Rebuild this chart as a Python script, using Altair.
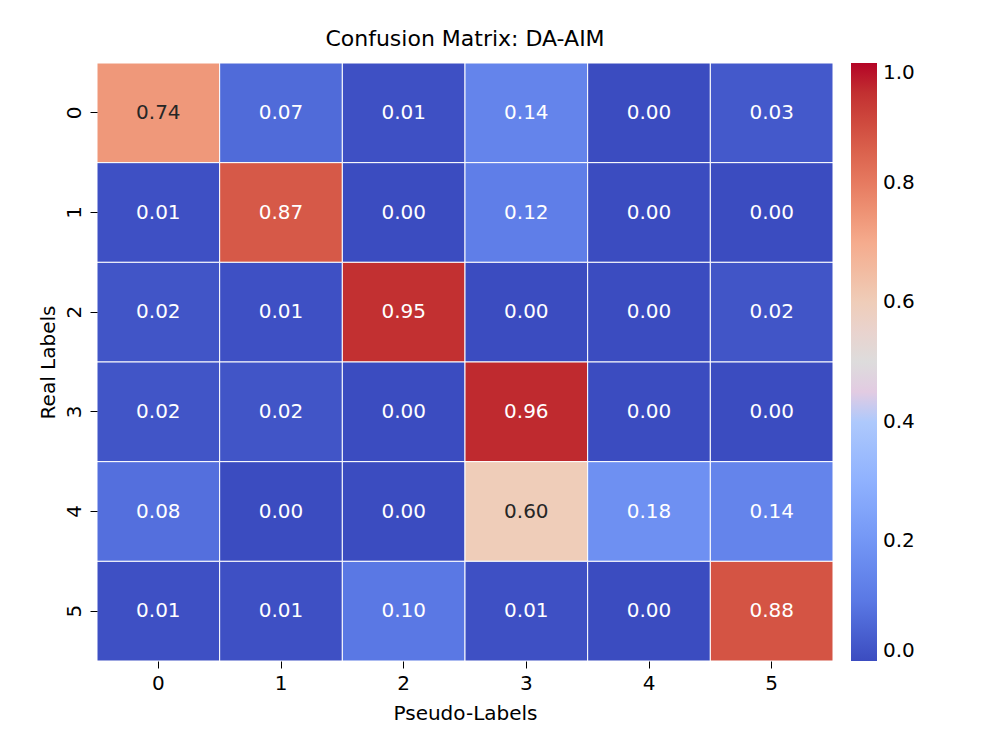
import pandas as pd
import altair as alt

real_labels = ["0", "1", "2", "3", "4", "5"]
pseudo_labels = ["0", "1", "2", "3", "4", "5"]
values = [
    [0.74, 0.07, 0.01, 0.14, 0.00, 0.03],
    [0.01, 0.87, 0.00, 0.12, 0.00, 0.00],
    [0.02, 0.01, 0.95, 0.00, 0.00, 0.02],
    [0.02, 0.02, 0.00, 0.96, 0.00, 0.00],
    [0.08, 0.00, 0.00, 0.60, 0.18, 0.14],
    [0.01, 0.01, 0.10, 0.01, 0.00, 0.88],
]

rows = []
for i, r in enumerate(real_labels):
    for j, p in enumerate(pseudo_labels):
        rows.append({"real": r, "pseudo": p, "v": values[i][j]})
df = pd.DataFrame(rows)

# coolwarm approximation
cw_domain = [0, 0.1, 0.2, 0.3, 0.4, 0.5, 0.6, 0.7, 0.8, 0.9, 1.0]
cw_range = ["#3b4cc0", "#5a78e4", "#7396f5", "#8fb1fe", "#aec9fc", "#dddcdc",
            "#efcdb9", "#f5ab8d", "#e67a60", "#cf4a3e", "#b40426"]

font = "DejaVu Sans"
base = alt.Chart(df).encode(
    x=alt.X("pseudo:O", sort=pseudo_labels, title="Pseudo-Labels",
            axis=alt.Axis(labelAngle=0, domain=False, tickSize=7, tickColor="black",
                          labelFontSize=20, titleFontSize=20, labelPadding=5,
                          titlePadding=10, labelColor="black", titleColor="black",
                          labelFont=font, titleFont=font, titleFontWeight="normal")),
    y=alt.Y("real:O", sort=real_labels, title="Real Labels",
            axis=alt.Axis(labelAngle=270, labelAlign="center", labelBaseline="bottom",
                          domain=False, tickSize=7, tickColor="black",
                          labelFontSize=20, titleFontSize=20, labelPadding=6,
                          titlePadding=6, labelColor="black", titleColor="black",
                          labelFont=font, titleFont=font, titleFontWeight="normal")),
)

cells = base.mark_rect(stroke="white", strokeWidth=1).encode(
    color=alt.Color("v:Q", scale=alt.Scale(domain=cw_domain, range=cw_range, type="linear"),
                    legend=alt.Legend(title=None, gradientLength=598, gradientThickness=26,
                                      offset=18, labelFontSize=20, labelFont=font,
                                      labelColor="black", format=".1f",
                                      values=[0, 0.2, 0.4, 0.6, 0.8, 1.0],
                                      gradientStrokeWidth=0, labelOffset=6))
)

text = base.mark_text(fontSize=20, font=font).encode(
    text=alt.Text("v:Q", format=".2f"),
    color=alt.condition("datum.v > 0.5 && datum.v < 0.8", alt.value("#262626"), alt.value("white")),
)

chart = (cells + text).properties(
    width=736, height=598,
    title=alt.TitleParams("Confusion Matrix: DA-AIM", fontSize=22, font=font,
                          fontWeight="normal", color="black", offset=12),
    autosize=alt.AutoSizeParams(type="none"),
    padding={"left": 89, "top": 55, "right": 150, "bottom": 80},
).configure_view(stroke=None)

chart.save("out.html", embed_options={"renderer": "svg", "actions": False})
